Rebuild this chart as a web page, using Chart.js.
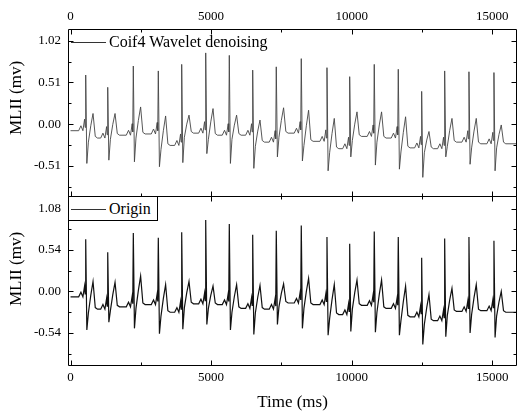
<!DOCTYPE html>
<html>
<head>
<meta charset="utf-8">
<script src="https://cdn.jsdelivr.net/npm/chart.js@4.4.1/dist/chart.umd.min.js"></script>
<style>
  body { margin: 0; background: #fff; }
  #wrap { position: relative; width: 519px; height: 411px; background: #fff; font-family: "Liberation Serif", "Times New Roman", serif; color: #000; }
  canvas { position: absolute; left: 0; }
  .ytitle { position: absolute; width: 120px; height: 20px; line-height: 20px; font-size: 17px; text-align: center; transform: rotate(-90deg); white-space: nowrap; }
  .legend { position: absolute; font-size: 16px; line-height: 20px; white-space: nowrap; }
  .legend .sample { display: inline-block; width: 35px; border-top: 1px solid #333; vertical-align: middle; margin-right: 3px; margin-top: -1px; }
</style>
</head>
<body>
<div id="wrap">
  <canvas id="topChart" width="519" height="198" style="top:0"></canvas>
  <canvas id="bottomChart" width="519" height="215" style="top:196px"></canvas>
  <div class="ytitle" style="left:-44px; top:88px;">MLII (mv)</div>
  <div class="ytitle" style="left:-44px; top:259px;">MLII (mv)</div>
  <div class="legend" style="left:71px; top:32px;"><span class="sample"></span>Coif4 Wavelet denoising</div>
  <div class="legend" style="left:68px; top:196px; width:90px; height:25px; background:#fff; border:1px solid #000; box-sizing:border-box; padding-left:2px; line-height:23px;"><span class="sample"></span>Origin</div>
</div>
<script>
// R-peak times (ms)
const beatTimes = [540, 1323, 2233, 3122, 3954, 4808, 5647, 6479, 7318, 8207, 9121, 9929, 10803, 11657, 12489, 13307, 14171, 15060];

// Coif4 wavelet denoised signal (mv)
const denoisedR = [0.60, 0.45, 0.71, 0.65, 0.73, 0.87, 0.84, 0.66, 0.70, 0.80, 0.69, 0.58, 0.73, 0.67, 0.40, 0.65, 0.64, 0.63];
const denoisedS = [-0.48, -0.44, -0.46, -0.52, -0.47, -0.36, -0.48, -0.54, -0.40, -0.45, -0.57, -0.40, -0.50, -0.55, -0.65, -0.40, -0.49, -0.57];
const denoisedT = [0.13, 0.13, 0.21, 0.10, 0.11, 0.19, 0.11, 0.05, 0.20, 0.17, 0.07, 0.15, 0.15, 0.09, -0.09, 0.07, 0.07, -0.01];
const denoisedBase = [-0.08, -0.17, -0.135, -0.12, -0.26, -0.11, -0.135, -0.135, -0.22, -0.11, -0.21, -0.30, -0.15, -0.17, -0.29, -0.30, -0.22, -0.24, -0.24];

// Original signal (mv)
const originR = [0.68, 0.51, 0.76, 0.70, 0.77, 0.93, 0.88, 0.74, 0.79, 0.86, 0.71, 0.62, 0.78, 0.71, 0.44, 0.69, 0.71, 0.66];
const originS = [-0.50, -0.40, -0.48, -0.55, -0.49, -0.43, -0.50, -0.56, -0.43, -0.48, -0.57, -0.52, -0.53, -0.57, -0.69, -0.59, -0.54, -0.60];
const originT = [0.13, 0.12, 0.20, 0.09, 0.13, 0.07, 0.09, 0.08, 0.10, 0.17, 0.09, 0.15, 0.15, 0.07, -0.04, 0.04, 0.09, 0.00];
const originBase = [-0.07, -0.23, -0.20, -0.17, -0.27, -0.16, -0.17, -0.22, -0.23, -0.15, -0.17, -0.30, -0.18, -0.22, -0.33, -0.38, -0.26, -0.25, -0.27];

// beat outline: time offsets from the R peak (ms)
const shapeOffsets = [-250, -170, -100, -40, -20, 0, 40, 95, 180, 260, 340, 420];
const endTime = 15860;

// tick labels
const xTicks = [0, 5000, 10000, 15000];
const xMinor = [2500, 7500, 12500];
const topYTicks = [-0.51, 0, 0.51, 1.02];
const bottomYTicks = [-0.54, 0, 0.54, 1.08];

function buildSeries(base, rAmp, sAmp, tAmp) {
    const pts = [{x: 0, y: base[0]}];
    beatTimes.forEach((t, i) => {
        const b = base[i], b2 = base[i + 1];
        const vals = [b, b + 0.06, b, b + 0.14, b + 0.04, rAmp[i], sAmp[i], b2 - 0.05, (b2 + tAmp[i]) / 2, tAmp[i], b2 + 0.02, b2];
        shapeOffsets.forEach((o, k) => pts.push({x: t + o, y: vals[k]}));
    });
    pts.push({x: endTime, y: base[base.length - 1]});
    return pts;
}

const serif = "'Liberation Serif', 'Times New Roman', serif";

// frame and inward ticks on all four sides
const frameTicks = {
    id: "frameTicks",
    afterDraw(chart) {
        const {ctx, chartArea: a, scales: {x, y}} = chart;
        const yt = chart.options.plugins.frameTicks.yTicks;
        const L = Math.floor(a.left) + 0.5, R = Math.floor(a.right) - 0.5;
        const T = Math.round(a.top) - 0.5, B = Math.floor(a.bottom) - 0.5;
        ctx.save();
        ctx.strokeStyle = "#000";
        ctx.lineWidth = 1;
        ctx.beginPath();
        ctx.rect(L, T, R - L, B - T);
        const xs = xTicks.map(v => [v, 5]).concat(xMinor.map(v => [v, 3]));
        xs.forEach(([v, len]) => {
            const px = Math.round(x.getPixelForValue(v)) + 0.5;
            ctx.moveTo(px, T); ctx.lineTo(px, T + len);
            ctx.moveTo(px, B); ctx.lineTo(px, B - len);
        });
        const step = yt[1] - yt[0];
        for (let k = -4; k <= 8; k++) {
            const v = yt[0] + k * step / 2;
            if (v < y.min || v > y.max) continue;
            const len = k % 2 === 0 ? 5 : 3;
            const py = Math.round(y.getPixelForValue(v)) + 0.5;
            ctx.moveTo(L, py); ctx.lineTo(L + len, py);
            ctx.moveTo(R, py); ctx.lineTo(R - len, py);
        }
        ctx.stroke();
        ctx.restore();
    }
};

function makeChart(id, points, opts) {
    return new Chart(document.getElementById(id).getContext("2d"), {
        type: "line",
        data: {
            datasets: [{
                data: points,
                borderColor: opts.color,
                borderWidth: opts.width,
                pointRadius: 0,
                tension: 0,
                fill: false,
            }],
        },
        options: {
            responsive: false,
            animation: false,
            events: [],
            devicePixelRatio: 1,
            layout: {padding: opts.padding, autoPadding: false},
            plugins: {
                legend: {display: false},
                tooltip: {enabled: false},
                frameTicks: {yTicks: opts.yTicks},
            },
            scales: {
                x: {
                    type: "linear",
                    position: opts.xPosition,
                    min: -90,
                    max: 15880,
                    afterBuildTicks: s => { s.ticks = xTicks.map(v => ({value: v})); },
                    afterFit: s => { s.height = opts.xHeight; s.paddingLeft = 0; s.paddingRight = 0; },
                    grid: {display: false, drawTicks: false},
                    border: {display: false},
                    ticks: {
                        padding: opts.xPad,
                        maxRotation: 0,
                        color: "#000",
                        font: {family: serif, size: 13},
                        callback: v => String(v),
                    },
                    title: opts.xTitle,
                },
                y: {
                    min: opts.yMin,
                    max: opts.yMax,
                    afterBuildTicks: s => { s.ticks = opts.yTicks.map(v => ({value: v})); },
                    afterFit: s => { s.width = 68; s.paddingTop = 0; s.paddingBottom = 0; },
                    grid: {display: false, drawTicks: false},
                    border: {display: false},
                    ticks: {
                        padding: 7,
                        color: "#000",
                        font: {family: serif, size: 13},
                        callback: v => v.toFixed(2),
                    },
                },
            },
        },
        plugins: [frameTicks],
    });
}

makeChart("topChart", buildSeries(denoisedBase, denoisedR, denoisedS, denoisedT), {
    color: "#444",
    width: 0.9,
    padding: {left: 0, right: 2, top: 0, bottom: 1},
    xPosition: "top",
    xHeight: 30,
    xPad: 6,
    xTitle: {display: false},
    yMin: -0.89,
    yMax: 1.15,
    yTicks: topYTicks,
});

makeChart("bottomChart", buildSeries(originBase, originR, originS, originT), {
    color: "#111",
    width: 1.2,
    padding: {left: 0, right: 2, top: 1, bottom: 0},
    xPosition: "bottom",
    xHeight: 45,
    xPad: 4,
    xTitle: {
        display: true,
        text: "Time (ms)",
        color: "#000",
        font: {family: serif, size: 17, lineHeight: 1},
        padding: {top: 0, bottom: 0},
    },
    yMin: -0.97,
    yMax: 1.23,
    yTicks: bottomYTicks,
});
</script>
</body>
</html>
